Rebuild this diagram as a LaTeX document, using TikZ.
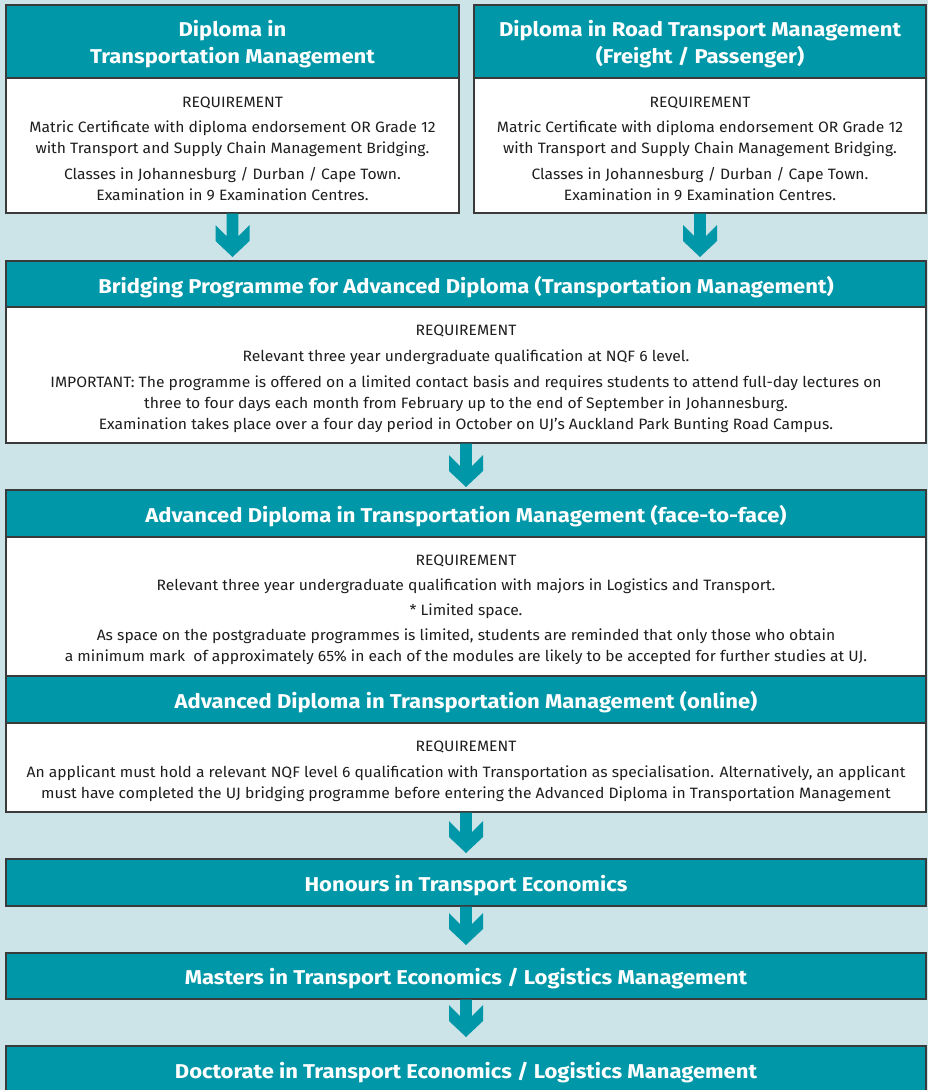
\documentclass[tikz,border=0pt]{standalone}
\usepackage{fontspec}
\setmainfont{Fira Sans}
\newfontfamily\hdrfont[FakeStretch=1.10]{Fira Sans}
\newfontfamily\bodyfont[FakeStretch=1.045]{Fira Sans}
\usetikzlibrary{calc}
\definecolor{bg}{HTML}{CCE3E7}
\definecolor{ujteal}{HTML}{0098A8}
\definecolor{boxline}{HTML}{3A3A3A}
\definecolor{bodytext}{HTML}{1E1E1E}
\tikzset{
  hdr/.style={fill=ujteal, draw=boxline, line width=1.2pt, outer sep=0pt, inner sep=0pt},
  hdrtext/.style={text=white, inner sep=0pt, yshift=-3pt,
    font=\hdrfont\bfseries\fontsize{20}{27}\selectfont, align=center},
  bodybox/.style={fill=white, draw=boxline, line width=1.2pt, outer sep=0pt, inner sep=0pt},
  txt/.style={font=\bodyfont\fontsize{15}{21}\selectfont, align=center, inner sep=0pt, text=bodytext, yshift=-2pt},
}
\newcommand\flowarrow[3]{%
  \begin{scope}
  \coordinate (S) at ($(#1.south)+(0,0.6)$);
  \coordinate (T) at ($(#1.south |- #2.north)+(0,-#3)$);
  \fill[ujteal] ($(S)+(-5.8,0)$) -- ($(T)+(-5.8,-20.8)$) -- ($(T)+(-17,-32)$) -- ($(T)+(-17,-16)$) -- (T)
    -- ($(T)+(17,-16)$) -- ($(T)+(17,-32)$) -- ($(T)+(5.8,-20.8)$) -- ($(S)+(5.8,0)$) -- cycle;
  \end{scope}}
\begin{document}
\begin{tikzpicture}[x=1pt,y=-1pt]
\fill[bg] (0,0) rectangle (928,1090);
\useasboundingbox (0,0) rectangle (928,1090);

% top left
\node[hdr, minimum width=453pt, minimum height=73pt] (h1) at (232.5,41.5) {};
\node[hdrtext] (h1t) at (h1.center) {Diploma in\\Transportation Management};
\node[bodybox, minimum width=453pt, minimum height=135pt] (b1) at (232.5,145.5) {};
\node[txt] (b1a) at (232.5,101) {REQUIREMENT};
\node[txt] (b1b) at (232.5,136.5) {Matric Certificate with diploma endorsement OR Grade 12\\with Transport and Supply Chain Management Bridging.};
\node[txt] (b1c) at (232.5,182.5) {Classes in Johannesburg / Durban / Cape Town.\\Examination in 9 Examination Centres.};

% top right
\node[hdr, minimum width=452pt, minimum height=73pt] (h2) at (700,41.5) {};
\node[hdrtext] (h2t) at (h2.center) {Diploma in Road Transport Management\\(Freight / Passenger)};
\node[bodybox, minimum width=452pt, minimum height=135pt] (b2) at (700,145.5) {};
\node[txt] (b2a) at (700,101) {REQUIREMENT};
\node[txt] (b2b) at (700,136.5) {Matric Certificate with diploma endorsement OR Grade 12\\with Transport and Supply Chain Management Bridging.};
\node[txt] (b2c) at (700,182.5) {Classes in Johannesburg / Durban / Cape Town.\\Examination in 9 Examination Centres.};

% bridging
\node[hdr, minimum width=920pt, minimum height=46pt] (h3) at (466,284) {};
\node[hdrtext] (h3t) at (h3.center) {Bridging Programme for Advanced Diploma (Transportation Management)};
\node[bodybox, minimum width=920pt, minimum height=136pt] (b3) at (466,375) {};
\node[txt] (b3a) at (466,329) {REQUIREMENT};
\node[txt] (b3b) at (466,355) {Relevant three year undergraduate qualification at NQF 6 level.};
\node[txt] (b3c) at (466,402) {IMPORTANT: The programme is offered on a limited contact basis and requires students to attend full-day lectures on\\three to four days each month from February up to the end of September in Johannesburg.\\Examination takes place over a four day period in October on UJ’s Auckland Park Bunting Road Campus.};

% advanced face-to-face
\node[hdr, minimum width=920pt, minimum height=47pt] (h4) at (466,513.5) {};
\node[hdrtext] (h4t) at (h4.center) {Advanced Diploma in Transportation Management (face-to-face)};
\node[bodybox, minimum width=920pt, minimum height=139pt] (b4) at (466,606.5) {};
\node[txt] (b4a) at (466,559) {REQUIREMENT};
\node[txt] (b4b) at (466,584) {Relevant three year undergraduate qualification with majors in Logistics and Transport.};
\node[txt] (b4c) at (466,609) {* Limited space.};
\node[txt] (b4d) at (466,645) {As space on the postgraduate programmes is limited, students are reminded that only those who obtain\\a minimum mark\ \ of approximately 65\% in each of the modules are likely to be accepted for further studies at UJ.};

% advanced online
\node[hdr, minimum width=920pt, minimum height=47pt] (h5) at (466,699.5) {};
\node[hdrtext] (h5t) at (h5.center) {Advanced Diploma in Transportation Management (online)};
\node[bodybox, minimum width=920pt, minimum height=89pt] (b5) at (466,767.5) {};
\node[txt] (b5a) at (466,745) {REQUIREMENT};
\node[txt] (b5b) at (466,781.5) {An applicant must hold a relevant NQF level 6 qualification with Transportation as specialisation. Alternatively, an applicant\\must have completed the UJ bridging programme before entering the Advanced Diploma in Transportation Management};

% honours, masters, doctorate
\node[hdr, minimum width=920pt, minimum height=47pt] (h6) at (466,882.5) {};
\node[hdrtext] (h6t) at (h6.center) {Honours in Transport Economics};
\node[hdr, minimum width=920pt, minimum height=46pt] (h7) at (466,976) {};
\node[hdrtext] (h7t) at (h7.center) {Masters in Transport Economics / Logistics Management};
\node[hdr, minimum width=920pt, minimum height=47pt] (h8) at (466,1069.5) {};
\node[hdrtext] (h8t) at (h8.center) {Doctorate in Transport Economics / Logistics Management};

% arrows
\flowarrow{b1}{h3}{4}
\flowarrow{b2}{h3}{4}
\flowarrow{b3}{h4}{3}
\flowarrow{b5}{h6}{6}
\flowarrow{h6}{h7}{8}
\flowarrow{h7}{h8}{9}
\end{tikzpicture}
\end{document}
